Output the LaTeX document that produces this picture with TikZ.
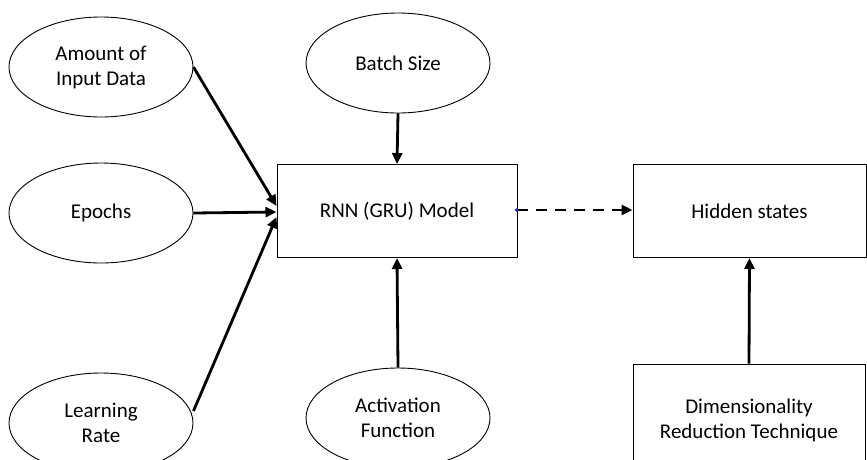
\documentclass[tikz,border=0pt]{standalone}
\usepackage{fontspec}
\setmainfont{Carlito}
\usetikzlibrary{shapes.geometric,arrows.meta}
\begin{document}
\begin{tikzpicture}[x=1pt,y=-1pt,
  every node/.style={font=\fontsize{21}{25}\selectfont, align=center, inner sep=0pt},
  param/.style={draw, ellipse, line width=0.9pt, minimum width=184pt, minimum height=100pt},
  block/.style={draw, rectangle, line width=1pt},
  link/.style={line width=2.8pt, -{Triangle[length=11pt,width=10pt]}},
  flow/.style={line width=2.8pt, dash pattern=on 11pt off 8pt,
    {Triangle[length=3pt,width=5pt,color=blue!60!gray]}-{Triangle[length=11pt,width=10pt]}}]
  \useasboundingbox (0,0) rectangle (867,459);

  % input parameters
  \node[param] (amount) at (101,67) {Amount of\\Input Data};
  \node[param] (epochs) at (101,213) {Epochs};
  \node[param] (rate) at (101,423) {Learning\\Rate};
  \node[param] (batch) at (398,63) {Batch Size};
  \node[param] (act) at (398,418) {Activation\\Function};

  % model and outputs
  \node[block, minimum width=240pt, minimum height=93pt] (rnn) at (397,211) {RNN (GRU) Model};
  \node[block, minimum width=233pt, minimum height=93pt] (hidden) at (749.5,211) {Hidden states};
  \node[block, minimum width=232pt, minimum height=112pt] (dim) at (749,420) {Dimensionality\\Reduction Technique};

  % connectors
  \draw[link] (amount.east) -- ([yshift=5pt]rnn.west);
  \draw[link] (epochs.east) -- ([yshift=-1pt]rnn.west);
  \draw[link] ([yshift=12pt]rate.east) -- ([yshift=-6pt]rnn.west);
  \draw[link] (batch.south) -- (rnn.north);
  \draw[link] (act.north) -- (rnn.south);
  \draw[link] (dim.north) -- (hidden.south);
  \draw[flow, shorten <=-3pt] ([yshift=1pt]rnn.east) -- ([yshift=1pt]hidden.west);
\end{tikzpicture}
\end{document}
